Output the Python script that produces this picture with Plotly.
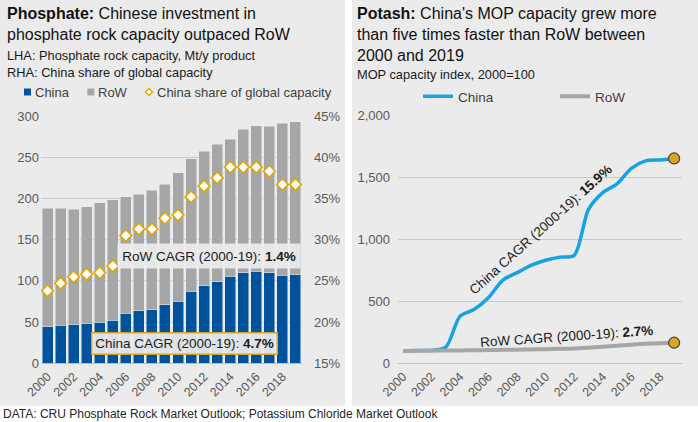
import plotly.graph_objects as go

# --- data ---
years = list(range(2000, 2020))
year_labels = [str(y) for y in years]
even_years = [str(y) for y in range(2000, 2020, 2)]

# phosphate rock capacity, Mt/y product
phos_china = [44.5, 46, 47, 48.5, 50, 52.5, 61, 64, 65, 71, 75.5, 87.5, 94, 99, 105.5, 110, 111.5, 110, 107, 107.5]
phos_row = [143.5, 142, 140, 141.5, 145, 146, 141, 141, 145, 146.5, 155.5, 160.5, 163.5, 166.5, 166.5, 174, 176.5, 177.5, 184.5, 185.5]
# China share of global capacity, %
phos_share = [23.8, 24.7, 25.5, 25.8, 26.0, 26.8, 30.5, 31.3, 31.3, 32.6, 33.0, 35.2, 36.5, 37.5, 38.8, 38.8, 38.8, 38.3, 36.7, 36.7]

# MOP capacity index, 2000=100
mop_china = [100, 103, 106, 130, 380, 435, 530, 670, 730, 790, 830, 855, 870, 1240, 1375, 1445, 1570, 1630, 1638, 1650]
mop_row = [100, 101, 102, 103, 104, 105, 107, 109, 110, 112, 114, 117, 120, 126, 133, 141, 150, 157, 162, 166]

BLUE = "#00529b"
GREY = "#a6a6a6"
GOLD = "#e0a800"
LBLUE = "#17a2e2"
PANEL = "#ebebeb"
W, H = 698, 422


def px(x):
    return x / W


def py(y):
    return 1 - y / H


fig = go.Figure()

# left chart: stacked bars + share diamonds
fig.add_trace(go.Bar(x=year_labels, y=phos_china, name="China", marker_color=BLUE,
                     showlegend=False, xaxis="x", yaxis="y"))
fig.add_trace(go.Bar(x=year_labels, y=phos_row, name="RoW", marker_color=GREY,
                     showlegend=False, xaxis="x", yaxis="y"))
fig.add_trace(go.Scatter(x=year_labels, y=phos_share, mode="markers", name="China share of global capacity",
                         marker=dict(symbol="diamond", size=9, color="white", line=dict(color=GOLD, width=1.6)),
                         showlegend=False, xaxis="x", yaxis="y2"))

# right chart: index lines
fig.add_trace(go.Scatter(x=years, y=mop_china, mode="lines", name="China", legend="legend2",
                         line=dict(color=LBLUE, width=3.5, shape="spline", smoothing=0.8),
                         xaxis="x2", yaxis="y3"))
fig.add_trace(go.Scatter(x=years, y=mop_row, mode="lines", name="RoW", legend="legend2",
                         line=dict(color=GREY, width=4, shape="spline"),
                         xaxis="x2", yaxis="y3"))
fig.add_trace(go.Scatter(x=[years[-1], years[-1]], y=[mop_china[-1], mop_row[-1]], mode="markers",
                         marker=dict(size=11, color="#dba628", line=dict(color="#404040", width=1.2)),
                         showlegend=False, xaxis="x2", yaxis="y3"))

tickfont = dict(family="Liberation Sans, Arial", size=13, color="#595959")
yearfont = dict(family="Liberation Sans, Arial", size=12.5, color="#595959")

# legend keys of the left chart (drawn as small shapes)
def key_square(cx, cy, color, s=3.5):
    return dict(type="rect", xref="paper", yref="paper", x0=px(cx - s), x1=px(cx + s),
                y0=py(cy + s), y1=py(cy - s), fillcolor=color, line_width=0)


def key_diamond(cx, cy, s=3.6):
    path = "M{},{} L{},{} L{},{} L{},{} Z".format(
        px(cx), py(cy - s), px(cx + s), py(cy), px(cx), py(cy + s), px(cx - s), py(cy))
    return dict(type="path", xref="paper", yref="paper", path=path,
                fillcolor="white", line=dict(color=GOLD, width=1.4))


fig.update_layout(
    width=W, height=H,
    margin=dict(l=0, r=0, t=0, b=0, autoexpand=False),
    paper_bgcolor="white",
    plot_bgcolor="rgba(0,0,0,0)",
    font=dict(family="Liberation Sans, Arial", color="#262626"),
    barmode="stack",
    bargap=0.16,
    xaxis=dict(domain=[px(41), px(302)], type="category", range=[-0.5, 19.5], automargin=False,
               tickvals=even_years, tickangle=-45, tickfont=yearfont,
               showgrid=False, showline=True, linecolor="#bfbfbf", ticks=""),
    yaxis=dict(domain=[py(363.3), py(116)], range=[0, 300], dtick=50, automargin=False,
               gridcolor="#c9c9c9", tickfont=tickfont, ticks="", ticklabelstandoff=1,
               zeroline=False),
    yaxis2=dict(overlaying="y", side="right", range=[15, 45], dtick=5, ticksuffix="%", automargin=False,
                showgrid=False, tickfont=tickfont, ticks="", ticklabelstandoff=11, zeroline=False),
    xaxis2=dict(domain=[px(398), px(682)], range=[1999.65, 2019.55], anchor="y3", automargin=False,
                tickvals=list(range(2000, 2020, 2)), tickangle=-45, tickfont=yearfont,
                showgrid=False, showline=True, linecolor="#bfbfbf", ticks="", zeroline=False),
    yaxis3=dict(domain=[py(363.3), py(115)], range=[0, 2000], dtick=500, anchor="x2", automargin=False,
                tickformat=",d", gridcolor="#c9c9c9", tickfont=tickfont, ticks="",
                ticklabelstandoff=7, zeroline=False),
    showlegend=True,
    legend2=dict(orientation="h", x=px(418), y=py(81), xanchor="left", yanchor="top",
                 bgcolor="rgba(0,0,0,0)", font=dict(size=13.5, color="#404040"),
                 traceorder="normal", entrywidth=92, itemwidth=30),
    shapes=[
        dict(type="rect", xref="paper", yref="paper", x0=0, x1=px(345), y0=py(406), y1=1,
             fillcolor=PANEL, line_width=0, layer="below"),
        dict(type="rect", xref="paper", yref="paper", x0=px(352), x1=1, y0=py(406), y1=1,
             fillcolor=PANEL, line_width=0, layer="below"),
        key_square(27.5, 92, BLUE),
        key_square(90.8, 92, GREY),
        key_diamond(149, 92),
    ],
)

ann = [
    dict(x=px(5), y=py(3), xanchor="left", yanchor="top", align="left",
         text="<b>Phosphate:</b> Chinese investment in<br>phosphate rock capacity outpaced RoW",
         font=dict(size=16, color="#111111")),
    dict(x=px(5), y=py(46), xanchor="left", yanchor="top", align="left",
         text="LHA: Phosphate rock capacity, Mt/y product<br>RHA: China share of global capacity",
         font=dict(size=12.8, color="#1a1a1a")),
    dict(x=px(33), y=py(92), xanchor="left", yanchor="middle", text="China",
         font=dict(size=13, color="#404040")),
    dict(x=px(96), y=py(92), xanchor="left", yanchor="middle", text="RoW",
         font=dict(size=13, color="#404040")),
    dict(x=px(155), y=py(92), xanchor="left", yanchor="middle", text="China share of global capacity",
         font=dict(size=13, color="#404040")),
    dict(x=px(355), y=py(3), xanchor="left", yanchor="top", align="left",
         text="<b>Potash:</b> China's MOP capacity grew more<br>than five times faster than RoW between<br>2000 and 2019",
         font=dict(size=16, color="#111111")),
    dict(x=px(355), y=py(65), xanchor="left", yanchor="top", align="left",
         text="MOP capacity index, 2000=100",
         font=dict(size=12.8, color="#1a1a1a")),
    dict(x=px(209), y=py(256), xanchor="center", yanchor="middle",
         text="RoW CAGR (2000-19): <b>1.4%</b>", width=176, height=18,
         bgcolor="rgba(236,236,236,0.93)", borderpad=3,
         font=dict(size=13.5, color="#1a1a1a")),
    dict(x=px(184.5), y=py(343), xanchor="center", yanchor="middle",
         text="China CAGR (2000-19): <b>4.7%</b>", width=180, height=16,
         bgcolor="rgba(234,234,234,0.95)", bordercolor="#d9a520", borderwidth=1.5, borderpad=2,
         font=dict(size=13.5, color="#1a1a1a")),
    dict(x=px(541), y=py(230), xanchor="center", yanchor="middle", textangle=-42,
         text="China CAGR (2000-19): <b>15.9%</b>",
         font=dict(size=13.5, color="#1a1a1a")),
    dict(x=px(566), y=py(336), xanchor="center", yanchor="middle", textangle=-4,
         text="RoW CAGR (2000-19): <b>2.7%</b>",
         font=dict(size=13.5, color="#1a1a1a")),
    dict(x=px(1), y=py(414), xanchor="left", yanchor="middle",
         text="DATA: CRU Phosphate Rock Market Outlook; Potassium Chloride Market Outlook",
         font=dict(size=12, color="#262626")),
]
for a in ann:
    a.update(xref="paper", yref="paper", showarrow=False)
fig.update_layout(annotations=ann)

# the page's default body margin would shift the figure by 8px
fig.write_html("out.html", config={"displayModeBar": False},
               post_script="document.body.style.margin='0';")
